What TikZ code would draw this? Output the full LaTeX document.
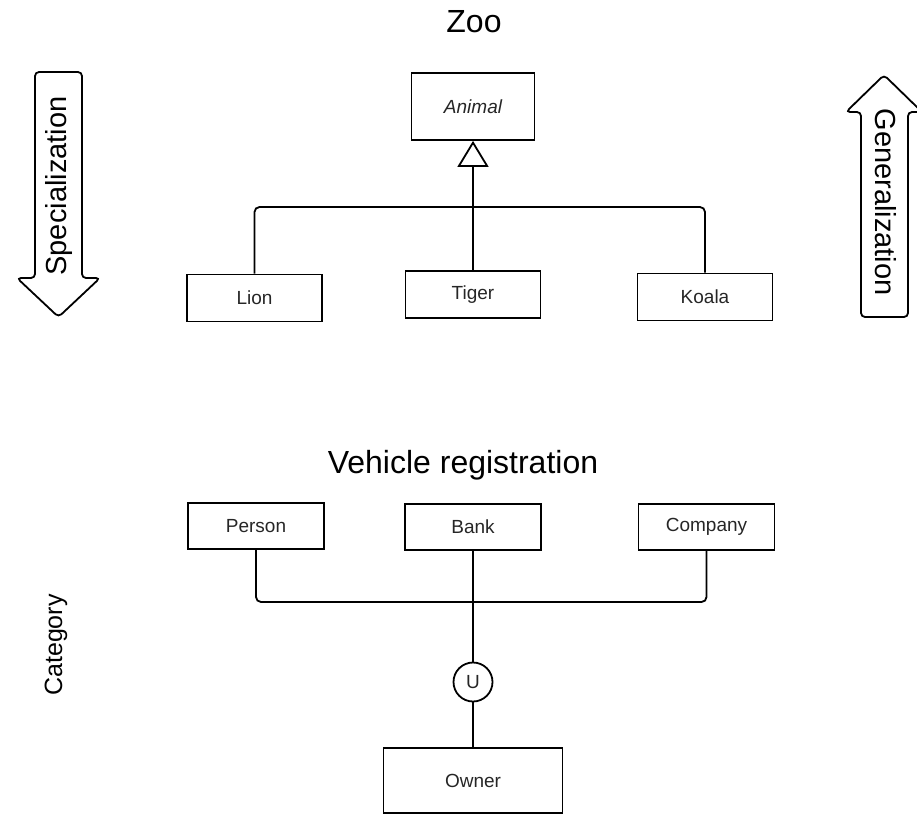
\documentclass[tikz,border=0pt]{standalone}
\usepackage{fontspec}
\setmainfont{Liberation Sans}
\usetikzlibrary{arrows.meta}
\begin{document}
\begin{tikzpicture}[x=1pt,y=-1pt,
  entity/.style={draw, line width=1.8pt, minimum width=135pt, minimum height=47pt,
    inner sep=0pt, font=\fontsize{19}{22}\selectfont, text=black!85},
  title/.style={font=\fontsize{32}{36}\selectfont},
  sidelabel/.style={font=\fontsize{29}{32}\selectfont},
  link/.style={line width=1.8pt, rounded corners=5pt},
  bigarrow/.style={draw, line width=1.8pt, rounded corners=4pt, fill=white},
  isa/.style={-{Triangle[open,length=26pt,width=31pt,line width=1.8pt]}}
]
\useasboundingbox (0,0) rectangle (917,815);

% ---------- Zoo: generalization hierarchy ----------
\node[title] (zootitle) at (474,22) {Zoo};
\node[entity, minimum width=123pt, minimum height=67pt, font=\fontsize{19}{22}\selectfont\itshape] (animal) at (473,106.5) {Animal};
\node[entity] (lion)  at (254.5,298) {Lion};
\node[entity] (tiger) at (473,294.5) {Tiger};
\node[entity] (koala) at (705,297) {Koala};

\coordinate (zbus) at (473,207);
\draw[link] (lion.north) |- (zbus) -| (koala.north);
\draw[link, isa] (tiger.north) -- (animal.south);

% direction arrows
\path[bigarrow] (35,72) -- (82,72) -- (82,278) -- (100,278) -- (58.5,317)
  -- (17,278) -- (35,278) -- cycle;
\node[sidelabel, rotate=90] (spec) at (59,186) {Specialization};

\path[bigarrow] (884,75) -- (922,112) -- (908,112) -- (908,317) -- (861,317)
  -- (861,112) -- (846,112) -- cycle;
\node[sidelabel, rotate=-90] (gen) at (886,202) {Generalization};

% ---------- Vehicle registration: category ----------
\node[title] (vrtitle) at (463,465) {Vehicle registration};
\node[entity, minimum width=136pt, minimum height=46pt] (person)  at (256,526) {Person};
\node[entity, minimum width=136pt, minimum height=46pt] (bank)    at (473,527) {Bank};
\node[entity, minimum width=136pt, minimum height=46pt] (company) at (706.5,527) {Company};
\node[draw, circle, line width=1.8pt, minimum size=39pt, inner sep=0pt,
  font=\fontsize{19}{22}\selectfont, text=black!85] (union) at (473,682) {U};
\node[entity, minimum width=179pt, minimum height=65pt] (owner) at (473,780.5) {Owner};

\coordinate (vbus) at (473,602);
\draw[link] (person.south) |- (vbus) -| (company.south);
\draw[link] (bank.south) -- (vbus) -- (union.north);
\draw[link] (union.south) -- (owner.north);

\node[font=\fontsize{25}{28}\selectfont, rotate=90] (cat) at (56,645) {Category};
\end{tikzpicture}
\end{document}
